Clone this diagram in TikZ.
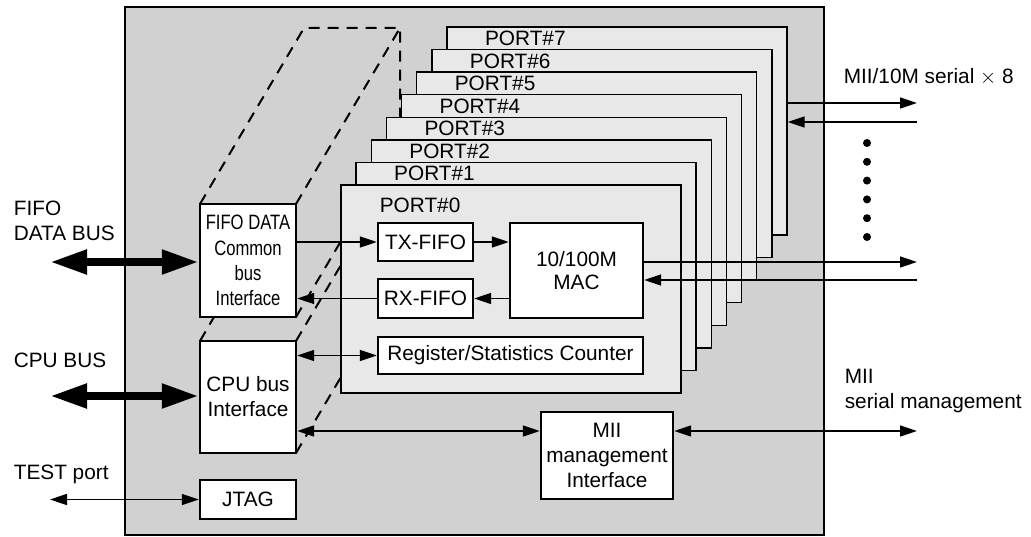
\documentclass[tikz,border=0pt]{standalone}
\usepackage{fontspec}
\setmainfont{Liberation Sans}
\newfontfamily\narrowfont[FakeStretch=0.8]{Liberation Sans}
\usetikzlibrary{arrows.meta,positioning}

\begin{document}
\begin{tikzpicture}[x=1pt,y=-1pt,>={Triangle[length=17pt,width=11pt]},
  font=\fontsize{20.8}{25}\selectfont, line width=1.6pt,
  chip/.style={draw,line width=2.6pt,fill=black!18},
  portbox/.style={draw,line width=1.4pt,fill=black!9,minimum width=340pt,minimum height=208pt,inner sep=0pt},
  blk/.style={draw,line width=2.4pt,fill=white,inner sep=0pt,align=center},
  hidden/.style={dash pattern=on 11pt off 8pt,line width=2pt},
  bus/.style={line width=8pt,{Triangle[length=37pt,width=23pt]}-{Triangle[length=37pt,width=23pt]}},
  txt/.style={inner sep=0pt,anchor=west,align=left}]
  \useasboundingbox (0,0) rectangle (1031,537);

  % chip outline
  \draw[chip] (125,7) rectangle (824,535);

  % hidden edges of the bus interface column
  \draw[hidden] (200,204) -- (304,28) -- (400,28) -- (400,277);
  \draw[hidden] (296,204) -- (400,28);
  \draw[hidden] (296,317) -- (341,241);
  \draw[hidden] (200,341) -- (214,317);
  \draw[hidden] (296,341) -- (341,265);
  \draw[hidden] (296,453) -- (341,377);

  % stacked ports
  \foreach \k in {7,...,1} {
    \node[portbox] (p\k) at ({511+15.14*\k},{289-22.57*\k}) {};
    \node[txt] at ([xshift=38pt,yshift=-12pt]p\k.north west) {PORT\#\k};
  }
  \node[portbox,line width=2.6pt] (p0) at (511,289) {};
  \node[txt] at (379,205) {PORT\#0};

  % port 0 contents
  \node[blk,minimum width=95pt,minimum height=38pt] (tx) at (425.5,242) {TX-FIFO};
  \node[blk,minimum width=95pt,minimum height=39pt] (rx) at (425.5,298.5) {RX-FIFO};
  \node[blk,minimum width=133pt,minimum height=95pt,font=\fontsize{20.8}{23}\selectfont] (mac) at (576.5,270.5) {10/100M\\MAC};
  \node[blk,minimum width=265pt,minimum height=37pt] (reg) at (510.5,355.5) {Register/Statistics Counter};

  % common blocks
  \node[blk,minimum width=96pt,minimum height=113pt,font=\narrowfont\fontsize{20.8}{25.3}\selectfont] (fifo) at (248,260.5) {FIFO DATA\\Common\\bus\\Interface};
  \node[blk,minimum width=96pt,minimum height=112pt] (cpu) at (248,397) {CPU bus\\Interface};
  \node[blk,minimum width=96pt,minimum height=39pt] (jtag) at (248,499.5) {JTAG};
  \node[blk,minimum width=132pt,minimum height=87pt] (mii) at (607,455.5) {MII\\management\\Interface};

  % outside ends
  \coordinate (fifobus) at (50,262);
  \coordinate (cpubus) at (50,396);
  \coordinate (testin) at (50,499.5);
  \coordinate (tx7) at (917,103);
  \coordinate (rx7) at (917,122);
  \coordinate (txout) at (917,262);
  \coordinate (rxout) at (917,280);
  \coordinate (mdio) at (917,431);

  \path (fifo.east |- tx.west) edge[->] (tx.west)
        (tx.east) edge[->] (mac.west |- tx.east)
        (mac.west |- rx.east) edge[->] (rx.east)
        (rx.west) edge[->] (fifo.east |- rx.west)
        (cpu.east |- reg.west) edge[<->] (reg.west)
        (cpu.east |- mdio) edge[<->] (mii.west |- mdio)
        (mii.east |- mdio) edge[<->] (mdio)
        (mac.east |- txout) edge[->] (txout)
        (rxout) edge[->] (mac.east |- rxout)
        (p7.east |- tx7) edge[->] (tx7)
        (rx7) edge[->] (p7.east |- rx7)
        (testin) edge[<->] (jtag.west |- testin);
  \draw[bus] (fifobus) -- (fifo.west |- fifobus);
  \draw[bus] (cpubus) -- (cpu.west |- cpubus);

  \foreach \i in {0,...,5}
    \fill ({867},{143+18.8*\i}) circle (4pt);

  % labels
  \node[txt] (fifolbl) at (13,220.5) {FIFO\\DATA BUS};
  \node[txt] (cpulbl) at (13,360) {CPU BUS};
  \node[txt] (testlbl) at (13,474) {TEST port};
  \node[txt] (serlbl) at (843,77) {MII/10M serial $\times$ 8};
  \node[txt] (mgmtlbl) at (844,391.5) {MII\\serial management};
\end{tikzpicture}
\end{document}
